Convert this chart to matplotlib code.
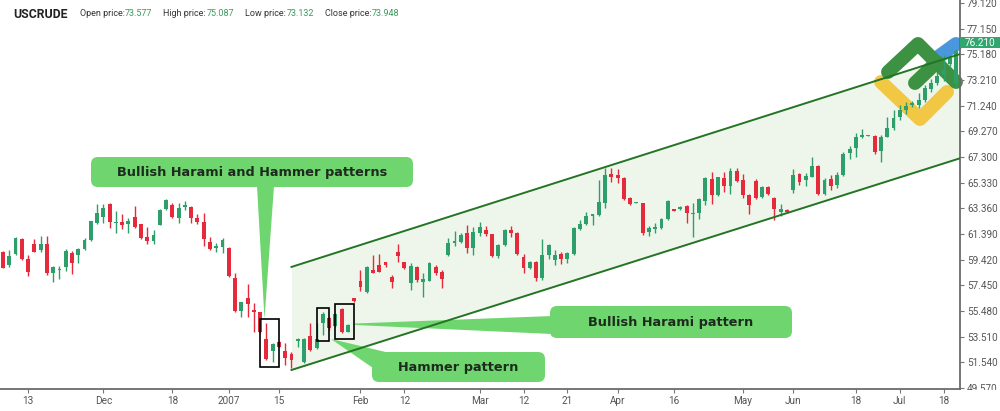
import numpy as np
import matplotlib.pyplot as plt
import matplotlib.transforms as mtransforms
from matplotlib.patches import FancyBboxPatch, Polygon, Rectangle
from matplotlib.lines import Line2D

# daily candles (open, high, low, close)
OPEN = [60.04, 59.01, 59.86, 60.98, 59.47, 60.63, 60.17, 60.63, 58.37, 58.63,
        58.83, 59.96, 59.78, 60.27, 60.93, 62.21, 62.72, 63.70, 62.26, 62.34,
        62.19, 62.67, 62.14, 61.19, 60.86, 62.11, 63.29, 63.62, 62.60, 63.44,
        63.49, 62.60, 62.34, 60.81, 60.29, 60.42, 60.34, 58.04, 55.51, 56.48,
        55.56, 55.38, 53.34, 52.41, 53.13, 52.44, 52.18, 53.21, 51.60, 53.57,
        52.62, 54.52, 54.92, 54.33, 55.60, 53.89, 56.45, 57.78, 56.96, 58.62,
        59.01, 59.21, 58.06, 59.98, 59.21, 57.60, 58.88, 57.68, 57.80, 58.88,
        58.50, 59.77, 60.67, 60.80, 61.44, 60.29, 61.50, 61.70, 61.37, 59.71,
        60.55, 61.70, 61.50, 59.65, 58.76, 59.27, 57.99, 59.78, 59.40, 59.83,
        59.48, 59.86, 61.78, 62.16, 62.78, 62.85, 63.80, 65.97, 65.92, 65.67,
        64.13, 63.75, 63.75, 61.57, 61.75, 61.83, 62.52, 63.29, 63.31, 63.54,
        62.93, 62.98, 63.93, 65.59, 64.39, 65.67, 65.10, 66.23, 65.54, 64.39,
        65.49, 64.21, 65.03, 64.13, 63.11, 63.24, 64.77, 65.98, 65.54, 65.79,
        66.64, 64.46, 65.59, 65.15, 65.92, 67.58, 67.97, 68.86, 68.93, 68.91,
        67.79, 68.86, 69.50, 70.35, 70.90, 71.30, 71.29, 71.68, 72.50, 73.00,
        73.58, 74.40, 73.00]
HIGH = [60.09, 60.17, 61.19, 61.06, 59.78, 60.98, 61.24, 61.24, 58.94, 58.94,
        60.22, 60.12, 60.35, 61.11, 62.39, 63.70, 63.67, 63.75, 63.16, 62.93,
        62.60, 63.54, 62.16, 61.96, 61.70, 63.29, 64.05, 63.80, 63.80, 63.93,
        63.54, 62.93, 63.03, 61.19, 60.73, 61.06, 60.42, 58.37, 56.20, 57.56,
        56.12, 55.43, 54.59, 53.00, 53.21, 53.05, 52.36, 53.39, 53.39, 54.54,
        54.54, 55.40, 55.00, 55.30, 55.68, 54.45, 56.50, 58.62, 58.93, 59.77,
        59.82, 59.26, 58.24, 60.59, 59.26, 59.19, 58.93, 58.37, 59.26, 59.01,
        58.62, 61.05, 61.64, 61.44, 62.08, 61.95, 62.30, 62.01, 61.39, 60.60,
        61.78, 62.03, 61.57, 59.86, 59.32, 59.32, 60.98, 60.63, 60.17, 59.99,
        60.04, 61.91, 62.47, 63.11, 62.93, 65.54, 66.43, 66.43, 66.38, 65.74,
        64.26, 63.82, 63.80, 62.01, 62.21, 62.60, 64.00, 63.29, 63.54, 63.62,
        63.75, 64.13, 65.80, 66.13, 65.80, 66.18, 66.44, 66.49, 65.98, 64.47,
        65.59, 65.08, 65.08, 64.21, 63.67, 63.34, 66.36, 66.05, 66.10, 67.28,
        66.69, 65.66, 65.92, 66.18, 67.71, 68.15, 69.12, 69.42, 68.99, 68.99,
        68.99, 70.35, 70.91, 71.29, 71.50, 71.60, 72.19, 72.83, 73.30, 73.80,
        75.09, 75.10, 75.60]
LOW = [58.76, 58.83, 59.78, 59.40, 58.17, 59.99, 60.04, 58.25, 57.73, 57.91,
       58.53, 58.32, 59.19, 60.17, 60.86, 62.16, 62.21, 61.83, 61.44, 61.75,
       61.50, 61.85, 60.98, 60.60, 60.60, 62.06, 63.24, 62.62, 62.21, 63.24,
       62.21, 62.14, 60.47, 60.17, 60.04, 59.91, 58.07, 55.43, 55.05, 55.05,
       53.90, 53.82, 51.72, 51.60, 52.70, 51.34, 51.08, 52.70, 51.52, 52.44,
       52.54, 53.60, 54.05, 54.28, 53.76, 53.85, 56.20, 57.01, 56.88, 58.37,
       58.44, 58.88, 57.22, 59.26, 58.70, 57.09, 57.73, 56.53, 57.75, 58.24,
       57.22, 59.70, 60.46, 60.67, 59.95, 59.77, 61.20, 61.24, 59.65, 59.53,
       60.50, 61.14, 59.78, 58.43, 58.71, 57.81, 57.86, 59.45, 59.01, 59.09,
       59.14, 59.78, 61.70, 62.08, 62.08, 62.78, 63.36, 65.41, 65.33, 64.00,
       63.62, 63.73, 61.32, 61.24, 61.50, 61.75, 62.47, 63.19, 63.24, 62.27,
       61.19, 62.52, 63.62, 63.70, 64.34, 64.64, 64.47, 65.41, 64.13, 62.93,
       64.05, 64.13, 64.39, 62.47, 62.78, 63.06, 64.52, 65.16, 65.10, 65.74,
       64.39, 64.39, 64.77, 64.90, 65.84, 67.12, 67.33, 68.73, 68.91, 67.53,
       66.94, 68.81, 69.37, 70.14, 70.60, 71.10, 71.04, 71.55, 72.30, 72.80,
       73.13, 74.30, 72.70]
CLOSE = [58.81, 59.73, 61.06, 59.45, 58.50, 60.04, 60.63, 58.43, 58.83, 58.73,
         60.09, 59.14, 60.24, 60.93, 62.37, 63.03, 63.36, 62.34, 62.34, 62.11,
         62.39, 61.90, 61.11, 60.88, 61.29, 63.24, 64.00, 62.67, 63.36, 63.64,
         62.60, 62.29, 60.98, 60.22, 60.47, 60.93, 58.17, 55.51, 56.15, 56.00,
         55.43, 53.90, 51.78, 52.93, 52.75, 51.85, 51.72, 53.26, 53.31, 52.49,
         53.31, 55.24, 54.15, 55.22, 53.89, 54.40, 56.24, 57.34, 58.88, 58.42,
         58.50, 59.01, 57.73, 59.70, 58.75, 58.93, 57.86, 57.93, 59.19, 58.37,
         57.91, 60.67, 60.87, 61.31, 60.34, 61.56, 61.90, 61.39, 59.71, 60.55,
         61.70, 61.50, 59.86, 58.76, 59.27, 57.99, 59.78, 60.55, 59.78, 59.45,
         59.91, 61.83, 62.16, 62.78, 62.90, 63.88, 65.92, 65.79, 65.71, 64.05,
         63.70, 63.80, 61.50, 61.83, 61.91, 62.52, 63.93, 63.19, 63.49, 62.98,
         63.03, 64.05, 65.67, 64.39, 65.75, 65.08, 66.26, 65.49, 64.39, 63.62,
         64.13, 65.03, 64.47, 63.29, 63.29, 63.11, 65.92, 65.41, 65.84, 66.64,
         64.46, 65.54, 65.08, 65.92, 67.51, 67.89, 68.81, 68.99, 68.96, 67.71,
         68.81, 69.50, 70.27, 70.91, 71.20, 71.45, 71.68, 72.57, 73.00, 73.50,
         73.95, 74.90, 75.40]

X_TICKS = [4, 16, 27, 36, 44, 57, 64, 76, 83, 90, 98, 107, 118, 126, 136, 143, 150]
X_LABELS = ["13", "Dec", "18", "2007", "15", "Feb", "12", "Mar", "12", "21",
            "Apr", "16", "May", "Jun", "18", "Jul", "18"]
Y_TICKS = [49.57, 51.54, 53.51, 55.48, 57.45, 59.42, 61.39, 63.36, 65.33,
           67.30, 69.27, 71.24, 73.21, 75.18, 77.15, 79.12]
LAST_PRICE = 76.21
HEADER = [("Open price:", "73.577"), ("High price:", "75.087"),
          ("Low price:", "73.132"), ("Close price:", "73.948")]

# trend channel (start/end index, upper and lower prices)
CH_X = [46.0, 152.6]
CH_UP = [58.86, 75.20]
CH_LO = [50.95, 67.20]

# candles boxed as patterns (first, last index)
PATTERNS = [(42, 43), (51, 51), (54, 55)]

GREEN = "#2e9f6a"
RED = "#e52a3c"
BOX = "#6fd66f"
TXT = "#1c2b1c"

W, H = 1000, 411
fig = plt.figure(figsize=(W / 100, H / 100), dpi=100)
ax = fig.add_axes([0, 1 - 389 / H, 0.96, 389 / H])
PX = mtransforms.Affine2D().scale(1 / W, -1 / H).translate(0, 1) + fig.transFigure

o, h, l, c = (np.array(a) for a in (OPEN, HIGH, LOW, CLOSE))
x = np.arange(len(o))
cols = np.where(c >= o, GREEN, RED)

# channel
ax.fill_between(CH_X, CH_LO, CH_UP, color="#eef6ec", zorder=0.5, lw=0)
ax.plot(CH_X, CH_UP, color="#237423", lw=1.4, zorder=3)
ax.plot(CH_X, CH_LO, color="#237423", lw=1.4, zorder=3)

# logo watermark
logo = [
    ([(881, 82), (920, 119), (947, 92)], "#f2c744"),
    ([(938, 57), (956, 44)], "#4a97dd"),
    ([(888, 72), (918, 44), (956, 82)], "#3d9142"),
    ([(915, 83), (937, 62)], "#3d9142"),
]
for pts, col in logo:
    xs, ys = zip(*pts)
    ax.add_line(Line2D(xs, ys, transform=PX, color=col, lw=10, solid_capstyle="round",
                       solid_joinstyle="round", zorder=1, clip_on=False))

# candles
ax.vlines(x, l, h, colors=cols, lw=1, zorder=2)
ax.bar(x, np.maximum(np.abs(c - o), 0.08), bottom=np.minimum(o, c), width=0.62,
       color=cols, lw=0, zorder=2.1)

for a, b in PATTERNS:
    lo = l[a:b + 1].min() - 0.4
    hi = h[a:b + 1].max() + 0.3
    ax.add_patch(Rectangle((a - 1, lo), b - a + 2, hi - lo, fill=False,
                           ec="black", lw=1.2, zorder=4))

# callouts (pixel geometry)
callouts = [
    ((91, 157, 322, 30), [(257, 186), (274, 186), (264.5, 319)],
     "Bullish Harami and Hammer patterns"),
    ((550, 306, 242, 32), [(552, 316), (552, 334), (355, 325), (355, 323.5)],
     "Bullish Harami pattern"),
    ((372, 352, 173, 30), [(331, 339), (394, 354), (373, 368)],
     "Hammer pattern"),
]
for (bx, by, bw, bh), wedge, label in callouts:
    ax.add_patch(Polygon(wedge, closed=True, transform=PX, fc=BOX, lw=0, zorder=2.5))
    ax.add_patch(FancyBboxPatch((bx, by), bw, bh, boxstyle="round,pad=0,rounding_size=7",
                                transform=PX, fc=BOX, lw=0, zorder=4.5))
    ax.text(bx + bw / 2, by + bh / 2, label, transform=PX, ha="center", va="center",
            fontsize=9.3, fontweight="bold", color=TXT, zorder=5)

ax.set_xlim(-0.48, 152.6)
ax.set_ylim(49.49, 79.35)
ax.set_xticks(X_TICKS, X_LABELS)
ax.yaxis.tick_right()
ax.set_yticks(Y_TICKS, [f"{v:.3f}" for v in Y_TICKS])
ax.tick_params(axis="both", length=3, width=0.8, color="#777", labelcolor="#555",
               labelsize=7.2, pad=2)
for s in ("left", "top"):
    ax.spines[s].set_visible(False)
for s in ("right", "bottom"):
    ax.spines[s].set_color("#6b6b6b")
    ax.spines[s].set_linewidth(1.3)
for t in ax.get_xticklabels() + ax.get_yticklabels():
    t.set_fontfamily("Roboto")

# header
fig.text(13, 14, "USCRUDE", transform=PX, fontsize=8.8, fontweight="bold",
         color="#222", va="center", family="Roboto")
for (lab, val), x0, x1 in zip(HEADER, [80, 163, 245, 325], [125, 207, 287, 372]):
    fig.text(x0, 14, lab, transform=PX, fontsize=6.5, color="#333", va="center",
             family="Roboto")
    fig.text(x1, 14, val, transform=PX, fontsize=6.5, color="#3a9a5e", va="center",
             family="Roboto")

# last price tag and clipped bottom label
fig.add_artist(Rectangle((960, 37), 40, 11, transform=PX, fc="#33a56f", lw=0, zorder=6))
fig.text(980, 42.5, f"{LAST_PRICE:.3f}", transform=PX, fontsize=7.2, color="white",
         ha="center", va="center", family="Roboto", zorder=7)
fig.add_artist(Rectangle((961.5, 390), 40, 22, transform=PX, fc="white", lw=0, zorder=6))

fig.savefig("out.png", dpi=100)
